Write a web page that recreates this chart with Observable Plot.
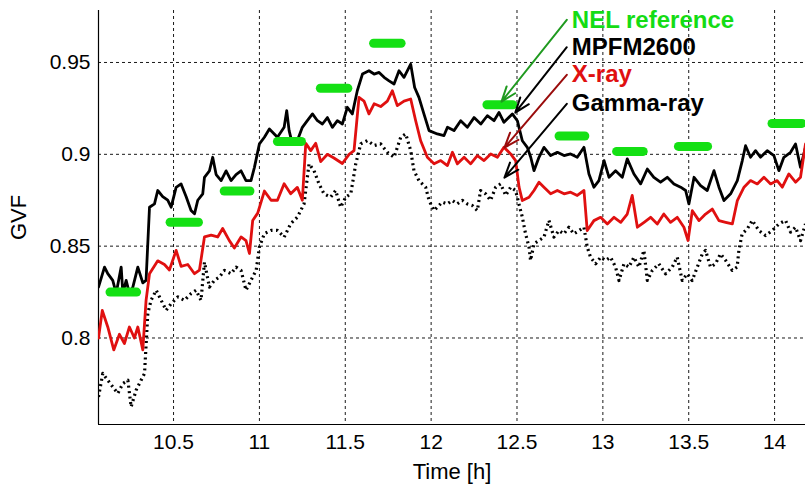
<!DOCTYPE html>
<html>
<head>
<meta charset="utf-8">
<script src="https://cdn.jsdelivr.net/npm/d3@7"></script>
<script src="https://cdn.jsdelivr.net/npm/@observablehq/plot@0.6"></script>
<style>
  html, body { margin: 0; padding: 0; background: #fff; }
  #chart { width: 805px; height: 485px; }
  #chart svg { font-family: 'Liberation Sans', Arial, Helvetica, sans-serif; }
  #chart g[aria-label="x-axis tick label"] text,
  #chart g[aria-label="y-axis tick label"] text { font-size: 21px !important; fill: #000; }
  #chart g[aria-label="x-axis label"] text,
  #chart g[aria-label="y-axis label"] text { font-size: 22px !important; fill: #000; }
  #chart g[aria-label="text"] text { font-size: 24px !important; font-weight: bold; }
</style>
</head>
<body>
<div id="chart"></div>
<script>
// ---- data ----
const xDomain = [10.063, 14.18];
const yDomain = [0.7529, 0.9783];
const xTicks = [10.5, 11, 11.5, 12, 12.5, 13, 13.5, 14];
const yTicks = [0.8, 0.85, 0.9, 0.95];

const mpfmT = [10.063,10.098,10.117,10.146,10.166,10.195,10.205,10.224,10.243,10.263,10.292,10.321,10.340,10.360,10.389,10.408,10.437,10.466,10.486,10.515,10.544,10.573,10.602,10.622,10.641,10.670,10.680,10.709,10.728,10.748,10.777,10.806,10.835,10.864,10.893,10.922,10.951,10.971,11.000,11.029,11.058,11.105,11.144,11.159,11.173,11.192,11.221,11.250,11.279,11.309,11.338,11.367,11.396,11.425,11.454,11.483,11.512,11.541,11.570,11.600,11.638,11.668,11.697,11.726,11.755,11.784,11.813,11.842,11.881,11.904,11.929,11.958,11.988,12.036,12.075,12.095,12.133,12.172,12.211,12.250,12.289,12.327,12.366,12.395,12.424,12.473,12.502,12.531,12.560,12.580,12.599,12.628,12.657,12.696,12.735,12.774,12.812,12.851,12.890,12.919,12.948,12.977,13.007,13.036,13.074,13.113,13.142,13.181,13.220,13.259,13.297,13.336,13.375,13.414,13.453,13.482,13.501,13.531,13.569,13.608,13.647,13.676,13.705,13.744,13.783,13.812,13.831,13.860,13.889,13.918,13.957,13.996,14.025,14.054,14.093,14.122,14.151,14.180];
const mpfmV = [0.8277,0.8386,0.8350,0.8314,0.8243,0.8386,0.8243,0.8314,0.8243,0.8277,0.8386,0.8300,0.8314,0.8712,0.8730,0.8803,0.8770,0.8750,0.8712,0.8820,0.8839,0.8770,0.8694,0.8676,0.8750,0.8785,0.8875,0.8910,0.8984,0.8890,0.8857,0.8910,0.8857,0.8890,0.8910,0.8857,0.8857,0.8929,0.9057,0.9093,0.9138,0.9093,0.9147,0.9238,0.9129,0.9057,0.9075,0.9147,0.9183,0.9220,0.9183,0.9165,0.9200,0.9147,0.9183,0.9165,0.9256,0.9220,0.9346,0.9437,0.9455,0.9437,0.9446,0.9419,0.9400,0.9383,0.9455,0.9419,0.9491,0.9364,0.9310,0.9220,0.9129,0.9111,0.9102,0.9147,0.9129,0.9183,0.9147,0.9200,0.9165,0.9210,0.9183,0.9228,0.9174,0.9220,0.9183,0.9074,0.9038,0.8984,0.8911,0.8984,0.9038,0.8993,0.9011,0.8993,0.9002,0.8984,0.9038,0.8893,0.8821,0.8857,0.8966,0.8875,0.8911,0.8875,0.8975,0.8893,0.8839,0.8920,0.8875,0.8848,0.8875,0.8839,0.8821,0.8803,0.8730,0.8875,0.8830,0.8803,0.8911,0.8821,0.8748,0.8785,0.8857,0.8966,0.9047,0.8984,0.9020,0.8984,0.9020,0.8993,0.8911,0.8984,0.9011,0.9056,0.8929,0.9038];

const xrayT = [10.063,10.085,10.117,10.152,10.185,10.214,10.243,10.272,10.292,10.321,10.340,10.360,10.408,10.447,10.476,10.515,10.544,10.583,10.622,10.651,10.680,10.719,10.757,10.786,10.825,10.854,10.893,10.922,10.942,10.961,10.990,11.029,11.068,11.105,11.144,11.182,11.221,11.250,11.270,11.299,11.328,11.357,11.396,11.434,11.483,11.522,11.551,11.580,11.609,11.638,11.668,11.706,11.745,11.774,11.803,11.842,11.881,11.910,11.939,11.978,12.017,12.056,12.095,12.124,12.153,12.192,12.230,12.269,12.308,12.347,12.386,12.424,12.463,12.492,12.512,12.531,12.570,12.599,12.628,12.657,12.696,12.735,12.774,12.812,12.851,12.890,12.909,12.948,12.987,13.026,13.065,13.104,13.142,13.171,13.201,13.240,13.278,13.317,13.355,13.394,13.433,13.472,13.496,13.521,13.560,13.598,13.637,13.676,13.715,13.754,13.783,13.822,13.860,13.899,13.938,13.977,14.015,14.045,14.083,14.122,14.151,14.180];
const xrayV = [0.8000,0.8150,0.8060,0.7935,0.8020,0.7970,0.8060,0.8000,0.8060,0.7935,0.8205,0.8350,0.8420,0.8400,0.8370,0.8477,0.8390,0.8400,0.8350,0.8370,0.8550,0.8560,0.8550,0.8596,0.8530,0.8490,0.8550,0.8530,0.8460,0.8640,0.8680,0.8800,0.8750,0.8750,0.8840,0.8785,0.8820,0.8750,0.9060,0.9020,0.9060,0.8960,0.9000,0.8980,0.8950,0.9000,0.9020,0.9310,0.9290,0.9220,0.9275,0.9260,0.9290,0.9346,0.9265,0.9290,0.9301,0.9183,0.9074,0.8984,0.8948,0.8966,0.8939,0.9011,0.8948,0.8984,0.8948,0.8993,0.8966,0.9002,0.8984,0.9038,0.9002,0.8966,0.8821,0.8748,0.8766,0.8803,0.8848,0.8821,0.8785,0.8803,0.8785,0.8794,0.8776,0.8803,0.8585,0.8639,0.8657,0.8621,0.8657,0.8630,0.8675,0.8776,0.8603,0.8630,0.8657,0.8621,0.8675,0.8630,0.8657,0.8603,0.8531,0.8693,0.8639,0.8675,0.8702,0.8639,0.8630,0.8621,0.8748,0.8821,0.8857,0.8839,0.8875,0.8839,0.8857,0.8821,0.8893,0.8848,0.8875,0.9057];

const gammaT = [10.063,10.088,10.117,10.146,10.175,10.205,10.234,10.253,10.282,10.311,10.331,10.350,10.369,10.399,10.428,10.457,10.486,10.525,10.563,10.602,10.631,10.660,10.680,10.709,10.738,10.767,10.796,10.835,10.864,10.893,10.922,10.951,10.981,11.000,11.029,11.068,11.105,11.144,11.182,11.221,11.260,11.289,11.318,11.347,11.376,11.415,11.444,11.473,11.503,11.532,11.561,11.590,11.629,11.668,11.706,11.745,11.784,11.823,11.852,11.881,11.900,11.929,11.968,11.988,12.017,12.036,12.065,12.094,12.123,12.152,12.182,12.211,12.240,12.269,12.288,12.317,12.346,12.376,12.405,12.434,12.463,12.492,12.511,12.531,12.550,12.570,12.579,12.599,12.628,12.657,12.686,12.715,12.744,12.773,12.802,12.831,12.861,12.890,12.909,12.928,12.958,12.987,13.016,13.045,13.074,13.094,13.123,13.152,13.181,13.210,13.239,13.259,13.288,13.326,13.365,13.404,13.433,13.462,13.491,13.520,13.550,13.579,13.598,13.627,13.656,13.685,13.715,13.753,13.782,13.792,13.811,13.841,13.870,13.909,13.947,13.986,14.025,14.064,14.093,14.122,14.151,14.180];
const gammaV = [0.7679,0.7807,0.7770,0.7734,0.7698,0.7752,0.7770,0.7625,0.7716,0.7770,0.7807,0.8133,0.8205,0.8260,0.8205,0.8151,0.8187,0.8224,0.8205,0.8242,0.8260,0.8205,0.8413,0.8277,0.8314,0.8332,0.8368,0.8350,0.8386,0.8368,0.8260,0.8314,0.8368,0.8495,0.8568,0.8586,0.8586,0.8549,0.8622,0.8658,0.8730,0.8948,0.8911,0.8839,0.8785,0.8767,0.8803,0.8712,0.8767,0.8785,0.8948,0.9057,0.9075,0.9048,0.9057,0.9011,0.8984,0.9093,0.9111,0.9020,0.8911,0.8857,0.8821,0.8749,0.8694,0.8712,0.8740,0.8730,0.8749,0.8730,0.8749,0.8730,0.8721,0.8694,0.8803,0.8785,0.8749,0.8821,0.8839,0.8776,0.8821,0.8803,0.8730,0.8658,0.8567,0.8495,0.8422,0.8513,0.8531,0.8549,0.8640,0.8549,0.8585,0.8567,0.8603,0.8567,0.8585,0.8603,0.8495,0.8440,0.8404,0.8440,0.8422,0.8440,0.8386,0.8313,0.8404,0.8386,0.8440,0.8386,0.8477,0.8313,0.8368,0.8404,0.8349,0.8386,0.8440,0.8313,0.8349,0.8313,0.8386,0.8458,0.8477,0.8386,0.8404,0.8458,0.8422,0.8368,0.8386,0.8477,0.8567,0.8594,0.8640,0.8585,0.8558,0.8585,0.8621,0.8640,0.8576,0.8603,0.8530,0.8621];

// NEL reference segments: start time, end time, GVF
const nelStart = [10.13, 10.48, 10.795, 11.105, 11.355, 11.665, 12.325, 12.745, 13.08, 13.44, 13.985];
const nelEnd   = [10.285, 10.645, 10.945, 11.245, 11.515, 11.825, 12.475, 12.895, 13.235, 13.61, 14.16];
const nelV     = [0.825, 0.863, 0.880, 0.907, 0.936, 0.9605, 0.927, 0.910, 0.9016, 0.9043, 0.9168];

// Annotation labels: text anchor (time, GVF) and arrow tip (time, GVF)
const labelText  = ["NEL reference", "MPFM2600", "X-ray", "Gamma-ray"];
const labelT     = [12.79, 12.79, 12.79, 12.79];
const labelV     = [0.9732, 0.9583, 0.9433, 0.9275];
const tipT       = [12.410, 12.490, 12.427, 12.427];
const tipV       = [0.9287, 0.9227, 0.9036, 0.8873];
const labelColor = ["#14dc14", "#000000", "#e01010", "#000000"];
const arrowColor = ["#1f9a1f", "#000000", "#9a0c0c", "#000000"];

// ---- build tables ----
const mpfm = mpfmT.map((t, i) => ({t, v: mpfmV[i]}));
const xray = xrayT.map((t, i) => ({t, v: xrayV[i]}));
const gamma = gammaT.map((t, i) => ({t, v: gammaV[i]}));
const nel = nelV.map((v, i) => ({t1: nelStart[i], t2: nelEnd[i], v}));
const labels = labelText.map((s, i) => ({
  s, t: labelT[i], v: labelV[i], tt: tipT[i], tv: tipV[i], c: labelColor[i], ac: arrowColor[i]
}));

const fmt = d => String(d);

const chart = Plot.plot({
  width: 805,
  height: 485,
  marginLeft: 98,
  marginRight: 0,
  marginTop: 10,
  marginBottom: 61,
  style: {fontFamily: "'Liberation Sans', Arial, Helvetica, sans-serif", fontSize: "21px", color: "#000", background: "#fff", overflow: "visible"},
  x: {domain: xDomain},
  y: {domain: yDomain},
  marks: [
    Plot.gridX(xTicks, {stroke: "#000", strokeOpacity: 0.9, strokeWidth: 1, strokeDasharray: "3,3"}),
    Plot.gridY(yTicks, {stroke: "#000", strokeOpacity: 0.9, strokeWidth: 1, strokeDasharray: "3,3"}),
    Plot.axisX(xTicks, {tickSize: 0, tickPadding: 10, tickFormat: fmt, fontSize: 21,
      label: "Time [h]", labelAnchor: "center", labelArrow: "none", labelOffset: 54}),
    Plot.axisY(yTicks, {tickSize: 0, tickPadding: 8, tickFormat: fmt, fontSize: 21,
      label: "GVF", labelAnchor: "center", labelArrow: "none", labelOffset: 88}),
    Plot.ruleX([xDomain[0]], {stroke: "#000", strokeWidth: 1.2}),
    Plot.ruleY([yDomain[0]], {stroke: "#000", strokeWidth: 1.2}),
    Plot.line(gamma, {x: "t", y: "v", stroke: "#000", strokeWidth: 3.2, strokeDasharray: "2,3.5", strokeLinecap: "butt", clip: true}),
    Plot.line(mpfm, {x: "t", y: "v", stroke: "#000", strokeWidth: 2.8, strokeLinejoin: "round", clip: true}),
    Plot.line(xray, {x: "t", y: "v", stroke: "#e01010", strokeWidth: 2.8, strokeLinejoin: "round", clip: true}),
    Plot.link(nel, {x1: "t1", x2: "t2", y1: "v", y2: "v", stroke: "#14e014", strokeWidth: 9, strokeLinecap: "round", clip: true}),
    Plot.arrow(labels, {x1: "t", y1: "v", x2: "tt", y2: "tv", stroke: "ac", strokeWidth: 2, headLength: 12, headAngle: 40}),
    Plot.text(labels, {x: "t", y: "v", text: "s", fill: "c", textAnchor: "start", dx: 5,
      fontSize: 24, fontWeight: "bold", lineAnchor: "middle"})
  ]
});

document.getElementById("chart").appendChild(chart);
</script>
</body>
</html>
